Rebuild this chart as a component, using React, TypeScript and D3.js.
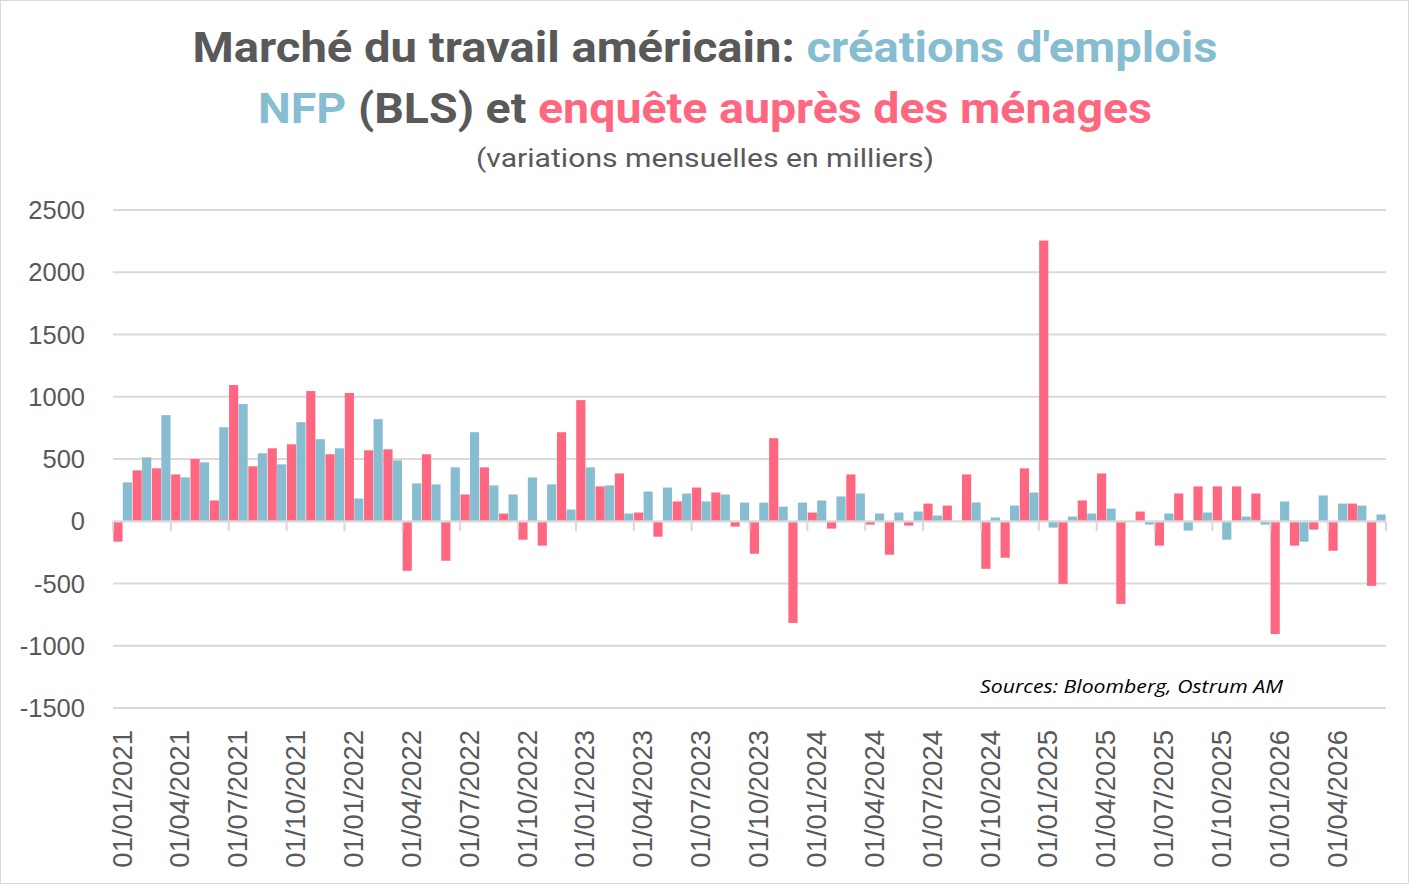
import React from 'react';
import * as d3 from 'd3';

const months: Date[] = d3.timeMonth.range(new Date(2021, 0, 1), new Date(2026, 6, 1));

// enquête auprès des ménages (milliers)
const household2021 = [-164, 409, 425, 376, 500, 167, 1094, 441, 586, 618, 1046, 538];
const household2022 = [1030, 570, 578, -398, 538, -317, 215, 433, 62, -148, -196, 715];
const household2023 = [973, 280, 384, 70, -124, 159, 271, 231, -43, -261, 667, -817];
const household2024 = [70, -59, 376, -27, -269, -35, 142, 126, 376, -382, -293, 425];
const household2025 = [2255, -503, 167, 384, -664, 78, -196, 223, 280, 280, 280, 223];
const household2026 = [-906, -196, -67, -237, 142, -519];

// créations d'emplois NFP (BLS)
const nfp2021 = [312, 513, 852, 352, 473, 755, 941, 546, 457, 796, 659, 586];
const nfp2022 = [183, 820, 489, 304, 296, 433, 715, 288, 215, 352, 296, 94];
const nfp2023 = [433, 288, 62, 239, 271, 223, 159, 215, 150, 150, 118, 150];
const nfp2024 = [167, 199, 223, 62, 70, 78, 46, 0, 151, 30, 126, 231];
const nfp2025 = [-51, 38, 62, 102, 0, -27, 62, -75, 70, -148, 38, -27];
const nfp2026 = [159, -164, 207, 142, 126, 54];

const yTicks = [-1500, -1000, -500, 0, 500, 1000, 1500, 2000, 2500];
const tickLabels = [
  '01/01/2021', '01/04/2021', '01/07/2021', '01/10/2021',
  '01/01/2022', '01/04/2022', '01/07/2022', '01/10/2022',
  '01/01/2023', '01/04/2023', '01/07/2023', '01/10/2023',
  '01/01/2024', '01/04/2024', '01/07/2024', '01/10/2024',
  '01/01/2025', '01/04/2025', '01/07/2025', '01/10/2025',
  '01/01/2026', '01/04/2026',
];

const household = [...household2021, ...household2022, ...household2023, ...household2024, ...household2025, ...household2026];
const nfp = [...nfp2021, ...nfp2022, ...nfp2023, ...nfp2024, ...nfp2025, ...nfp2026];

const BLUE = '#87bdd0';
const PINK = '#ff6680';
const GREY = '#595959';
const GRID = '#d9d9d9';

const W = 1409;
const H = 884;
const margin = { left: 113, right: 23, top: 210, bottom: 176 };

export default function App() {
  const fmt = d3.timeFormat('%d/%m/%Y');
  const x0 = d3.scaleBand<string>()
    .domain(months.map(d => fmt(d)))
    .range([margin.left, W - margin.right])
    .paddingInner(0)
    .paddingOuter(0);
  const x1 = d3.scaleBand<string>()
    .domain(['menages', 'nfp'])
    .range([0, x0.step()])
    .paddingInner(0.03)
    .paddingOuter(0.035);
  const y = d3.scaleLinear().domain([-1500, 2500]).range([H - margin.bottom, margin.top]);

  const keys = months.map(d => fmt(d));
  const quarterIdx = d3.range(0, keys.length + 1, 3);

  const bar = (v: number, key: string, series: string, color: string) => (
    <rect
      key={key + series}
      x={(x0(key) || 0) + (x1(series) || 0)}
      width={x1.bandwidth()}
      y={y(Math.max(0, v))}
      height={Math.abs(y(v) - y(0))}
      fill={color}
    />
  );

  return (
    <svg width={W} height={H} style={{ position: 'absolute', left: 0, top: 0, background: '#fff' }}>
      <rect x={0.5} y={0.5} width={W - 1} height={H - 1} fill="#fff" stroke={GRID} strokeWidth={1} />

      <text x={705} y={62} textAnchor="middle" fontFamily="Roboto, sans-serif" fontWeight={700} fontSize={42}
        textLength={1025} lengthAdjust="spacingAndGlyphs">
        <tspan fill={GREY}>Marché du travail américain: </tspan>
        <tspan fill={BLUE}>créations d'emplois</tspan>
      </text>
      <text x={705} y={123} textAnchor="middle" fontFamily="Roboto, sans-serif" fontWeight={700} fontSize={42}
        textLength={894} lengthAdjust="spacingAndGlyphs">
        <tspan fill={BLUE}>NFP</tspan>
        <tspan fill={GREY}> (BLS) et </tspan>
        <tspan fill={PINK}>enquête auprès des ménages</tspan>
      </text>
      <text x={705} y={167} textAnchor="middle" fontFamily="Roboto, sans-serif" fontSize={26} fill={GREY}
        textLength={458} lengthAdjust="spacingAndGlyphs">
        (variations mensuelles en milliers)
      </text>

      {yTicks.map(t => (
        <g key={t}>
          {t !== 0 && (
            <line x1={margin.left} x2={W - margin.right} y1={y(t)} y2={y(t)} stroke={GRID} strokeWidth={2} />
          )}
          <text x={85} y={y(t)} dy="0.36em" textAnchor="end" fontFamily="'Liberation Sans', Arial, sans-serif"
            fontSize={25.5} fill={GREY}>{t}</text>
        </g>
      ))}

      {keys.map((k, i) => (
        <g key={k}>
          {bar(household[i], k, 'menages', PINK)}
          {bar(nfp[i], k, 'nfp', BLUE)}
        </g>
      ))}

      <line x1={margin.left} x2={W - margin.right} y1={y(0)} y2={y(0)} stroke={GRID} strokeWidth={2.25} />
      {quarterIdx.map(i => {
        const xx = i < keys.length ? (x0(keys[i]) || 0) : W - margin.right;
        return <line key={'t' + i} x1={xx} x2={xx} y1={y(0)} y2={y(0) + 10} stroke={GRID} strokeWidth={2} />;
      })}

      {tickLabels.map((lab, j) => {
        const k = keys[j * 3];
        const cx = (x0(k) || 0) + x0.step() / 2 - 1;
        return (
          <text key={lab} transform={`translate(${cx},730) rotate(-90)`} textAnchor="end" dy="0.36em"
            fontFamily="'Liberation Sans', Arial, sans-serif" fontSize={27.5} fill={GREY}>{lab}</text>
        );
      })}

      <text x={980} y={693} fontFamily="'Open Sans', sans-serif" fontStyle="italic" fontSize={19} fill="#000"
        textLength={303} lengthAdjust="spacingAndGlyphs">
        Sources: Bloomberg, Ostrum AM
      </text>
    </svg>
  );
}
